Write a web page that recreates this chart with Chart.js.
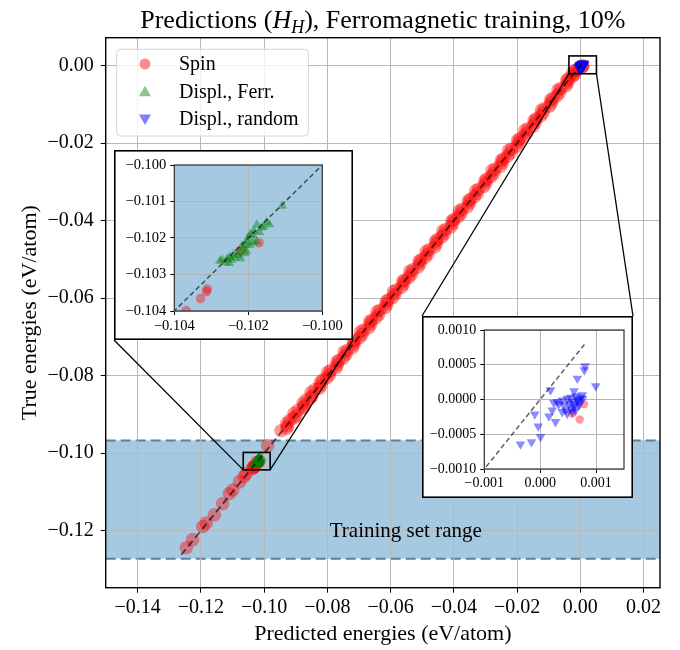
<!DOCTYPE html>
<html>
<head>
<meta charset="utf-8">
<script src="https://cdn.jsdelivr.net/npm/chart.js@4.4.1/dist/chart.umd.min.js"></script>
<style>
  body { margin: 0; background: #fff; }
  #wrap { position: relative; width: 680px; height: 650px; }
  .inset { position: absolute; background: #fff; }
</style>
</head>
<body>
<div id="wrap">
  <canvas id="main" width="680" height="650"></canvas>
  <canvas id="inset1" class="inset" width="239" height="190" style="left:114px;top:150px"></canvas>
  <canvas id="inset2" class="inset" width="211" height="182" style="left:422px;top:316px"></canvas>
</div>
<script>
// predicted (x) vs true (y) energies, eV/atom
const spinPred = [
  -0.1246, -0.1226, -0.1194, -0.1183, -0.1157, -0.1131, -0.1110, -0.1099, -0.1078, -0.1063, -0.1057,
  -0.10368, -0.10329, -0.10311, -0.10313, -0.10223, -0.10171, -0.0989,
  -0.0947, -0.0926, -0.0919, -0.0899, -0.0893, -0.0874, -0.0867, -0.0848, -0.0840, -0.0821,
  -0.0815, -0.0794, -0.0790, -0.0768, -0.0764, -0.0741, -0.0738, -0.0716, -0.0712, -0.0690,
  -0.0686, -0.0663, -0.0660, -0.0638, -0.0634, -0.0612, -0.0608, -0.0586, -0.0582, -0.0559,
  -0.0556, -0.0534, -0.0530, -0.0507, -0.0504, -0.0482, -0.0478, -0.0455, -0.0452, -0.0430,
  -0.0426, -0.0403, -0.0400, -0.0378, -0.0374, -0.0351, -0.0348, -0.0326, -0.0322, -0.0299,
  -0.0296, -0.0274, -0.0270, -0.0247, -0.0244, -0.0222, -0.0218, -0.0195, -0.0192, -0.0170,
  -0.0166, -0.0143, -0.0140, -0.0118, -0.0114, -0.0091, -0.0088, -0.0066, -0.0062, -0.0040,
  -0.0037, -0.0018, -0.0016, -0.0012,
  -0.0929, -0.0928, -0.0906, -0.0905, -0.0876, -0.0877, -0.0854, -0.0851, -0.0825, -0.0822,
  -0.0802, -0.0799, -0.0773, -0.0770, -0.0750, -0.0747, -0.0721, -0.0718, -0.0698, -0.0695,
  -0.0669, -0.0666, -0.0646, -0.0643, -0.0617, -0.0614, -0.0594, -0.0591, -0.0565, -0.0562,
  -0.0542, -0.0539, -0.0513, -0.0510, -0.0490, -0.0487, -0.0461, -0.0458, -0.0438, -0.0435,
  -0.0409, -0.0406, -0.0386, -0.0383, -0.0357, -0.0354, -0.0334, -0.0331, -0.0305, -0.0302,
  -0.0282, -0.0279, -0.0253, -0.0250, -0.0230, -0.0227, -0.0201, -0.0198, -0.0178, -0.0175,
  -0.0149, -0.0146, -0.0126, -0.0123, -0.0097, -0.0094, -0.0074, -0.0071, -0.0045, -0.0043,
  -0.0023, -0.0025,
  0.000784, 0.000707, 0.000575
];
const spinTrue = [
  -0.1244, -0.1223, -0.1189, -0.1180, -0.1159, -0.1130, -0.1104, -0.1095, -0.1074, -0.1060, -0.1053,
  -0.10399, -0.10366, -0.10340, -0.10347, -0.10236, -0.10213, -0.0980,
  -0.0942, -0.0930, -0.0915, -0.0904, -0.0889, -0.0878, -0.0863, -0.0852, -0.0836, -0.0826,
  -0.0811, -0.0798, -0.0787, -0.0772, -0.0761, -0.0745, -0.0735, -0.0720, -0.0709, -0.0694,
  -0.0683, -0.0667, -0.0657, -0.0642, -0.0631, -0.0616, -0.0605, -0.0590, -0.0579, -0.0563,
  -0.0553, -0.0538, -0.0527, -0.0511, -0.0501, -0.0486, -0.0475, -0.0459, -0.0449, -0.0434,
  -0.0423, -0.0407, -0.0397, -0.0382, -0.0371, -0.0355, -0.0345, -0.0330, -0.0319, -0.0303,
  -0.0293, -0.0278, -0.0267, -0.0251, -0.0241, -0.0226, -0.0215, -0.0199, -0.0189, -0.0174,
  -0.0163, -0.0147, -0.0137, -0.0122, -0.0111, -0.0095, -0.0085, -0.0070, -0.0059, -0.0044,
  -0.0034, -0.0022, -0.0013, -0.0011,
  -0.0936, -0.0923, -0.0909, -0.0897, -0.0883, -0.0871, -0.0858, -0.0843, -0.0832, -0.0817,
  -0.0806, -0.0791, -0.0780, -0.0765, -0.0754, -0.0739, -0.0728, -0.0713, -0.0702, -0.0687,
  -0.0676, -0.0661, -0.0650, -0.0635, -0.0624, -0.0609, -0.0598, -0.0583, -0.0572, -0.0557,
  -0.0546, -0.0531, -0.0520, -0.0505, -0.0494, -0.0479, -0.0468, -0.0453, -0.0442, -0.0427,
  -0.0416, -0.0401, -0.0390, -0.0375, -0.0364, -0.0349, -0.0338, -0.0323, -0.0312, -0.0297,
  -0.0286, -0.0271, -0.0260, -0.0245, -0.0234, -0.0219, -0.0208, -0.0193, -0.0182, -0.0167,
  -0.0156, -0.0141, -0.0130, -0.0115, -0.0104, -0.0089, -0.0078, -0.0063, -0.0052, -0.0038,
  -0.0027, -0.0019,
  -0.000067, -0.000288, -0.000202
];
const ferrPred = [
  -0.10108, -0.10143, -0.10150, -0.10158, -0.10164, -0.10170, -0.10177, -0.10185, -0.10188, -0.10195,
  -0.10200, -0.10203, -0.10186, -0.10177, -0.10206, -0.10214, -0.10217, -0.10205, -0.10223, -0.10228,
  -0.10236, -0.10239, -0.10245, -0.10250, -0.10257, -0.10263, -0.10271, -0.10277, -0.10251, -0.10221,
  -0.10209, -0.10195
];
const ferrTrue = [
  -0.10112, -0.10163, -0.10157, -0.10169, -0.10172, -0.10184, -0.10164, -0.10181, -0.10192, -0.10190,
  -0.10199, -0.10210, -0.10212, -0.10210, -0.10219, -0.10228, -0.10221, -0.10236, -0.10239, -0.10247,
  -0.10254, -0.10245, -0.10260, -0.10251, -0.10258, -0.10267, -0.10260, -0.10263, -0.10269, -0.10256,
  -0.10242, -0.10219
];
const randPred = [
  0.000802, 0.000790, 0.000665, 0.000994, 0.000186, 0.000605, 0.000754, 0.000635, 0.000545, 0.000485,
  0.000395, 0.000305, 0.000246, 0.000335, 0.000425, 0.000515, 0.000575, 0.000665, 0.000725, 0.000695,
  0.000605, 0.000545, 0.000455, 0.000395, 0.000216, 0.000156, -0.000096, 0.000275, -0.000036, 0.000006,
  -0.000156, -0.000353, 0.000485, 0.000575, 0.000635, 0.000700, 0.000760, 0.000620, 0.000680
];
const randTrue = [
  0.000481, 0.000423, 0.000303, 0.000192, 0.000135, 0.000120, 0.000063, 0.000048, 0.000029, 0.000014,
  -0.000010, -0.000034, -0.000048, -0.000067, -0.000082, -0.000058, -0.000034, -0.000010, 0.000029, -0.000082,
  -0.000106, -0.000130, -0.000154, -0.000178, -0.000154, -0.000240, -0.000212, -0.000322, -0.000385, -0.000538,
  -0.000611, -0.000644, -0.000202, -0.000178, -0.000154, -0.000050, 0.000010, -0.000070, 0.000000
];
const diagLine = [-0.1262, 0.0008];
const trainRange = [-0.1272, -0.0967];
const trainLabelAt = [-0.0552, -0.1203];
const zoomBox1 = [-0.1066, -0.0981, -0.1043, -0.0998];  // x0, x1, y0, y1
const zoomBox2 = [-0.0036, 0.0051, -0.0021, 0.0025];

const mainXRange = [-0.1501, 0.0252];
const mainYRange = [-0.1347, 0.0072];
const mainXTicks = [-0.14, -0.12, -0.10, -0.08, -0.06, -0.04, -0.02, 0.00, 0.02];
const mainYTicks = [-0.12, -0.10, -0.08, -0.06, -0.04, -0.02, 0.00];
const in1Range = [-0.104, -0.100];
const in1XTicks = [-0.104, -0.102, -0.100];
const in1YTicks = [-0.104, -0.103, -0.102, -0.101, -0.100];
const in2XRange = [-0.001, 0.0015];
const in2YRange = [-0.001, 0.001];
const in2XTicks = [-0.001, 0.000, 0.001];
const in2YTicks = [-0.0010, -0.0005, 0.0000, 0.0005, 0.0010];

const seriesNames = ['Spin', 'Displ., Ferr.', 'Displ., random'];
const titleText = ['Predictions (', 'H', 'H', '), Ferromagnetic training, 10%'];

const serif = "'Liberation Serif', 'DejaVu Serif', serif";
const RED = 'rgba(255,0,0,0.4)', GREEN = 'rgba(0,128,0,0.42)', BLUE = 'rgba(0,0,255,0.45)';

function pts(xs, ys) { return xs.map((x, i) => ({x: x, y: ys[i]})); }
function fmt(d) { return v => (v < -1e-12 ? '\u2212' : '') + Math.abs(v).toFixed(d); }

function makeSets(r, dash, lw) {
  const base = {pointBorderWidth: 0, pointBorderColor: 'rgba(0,0,0,0)', clip: 0, showLine: false};
  return [
    {label: 'diag', data: [{x: diagLine[0], y: diagLine[0]}, {x: diagLine[1], y: diagLine[1]}],
      showLine: true, borderColor: 'rgba(0,0,0,0.62)', borderWidth: lw, borderDash: dash, pointRadius: 0, order: 0, clip: 0},
    Object.assign({}, base, {label: seriesNames[2], data: pts(randPred, randTrue), pointStyle: 'triangle', pointRotation: 180,
      pointRadius: r.rand, pointBackgroundColor: BLUE, order: 1}),
    Object.assign({}, base, {label: seriesNames[1], data: pts(ferrPred, ferrTrue), pointStyle: 'triangle',
      pointRadius: r.ferr, pointBackgroundColor: GREEN, order: 2}),
    Object.assign({}, base, {label: seriesNames[0], data: pts(spinPred, spinTrue), pointStyle: 'circle',
      pointRadius: r.spin, pointBackgroundColor: RED, order: 3})
  ];
}

function axis(ticks, range, d, size, fontPx, pad, tl, gridCol) {
  return {
    type: 'linear', min: range[0], max: range[1],
    afterBuildTicks: s => { s.ticks = ticks.map(v => ({value: v})); },
    afterFit: s => { if (s.isHorizontal()) s.height = size; else s.width = size; },
    ticks: {callback: fmt(d), font: {family: serif, size: fontPx}, color: '#000', padding: pad,
      maxRotation: 0, autoSkip: false},
    grid: {color: gridCol, lineWidth: 1, tickColor: '#000', tickLength: tl, drawTicks: true},
    border: {display: false}
  };
}

// training-range band under the grid, frame on top
const spanPlugin = {
  id: 'span',
  beforeDraw(chart, args, opts) {
    const {ctx, chartArea: a} = chart;
    const y = chart.scales.y;
    ctx.save();
    ctx.fillStyle = '#fff';
    ctx.fillRect(0, 0, chart.width, chart.height);
    ctx.beginPath(); ctx.rect(a.left, a.top, a.right - a.left, a.bottom - a.top); ctx.clip();
    const y0 = y.getPixelForValue(trainRange[1]), y1 = y.getPixelForValue(trainRange[0]);
    ctx.fillStyle = 'rgba(31,119,180,0.4)';
    ctx.fillRect(a.left, y0, a.right - a.left, y1 - y0);
    if (opts.edges) {
      ctx.strokeStyle = '#5d7f9b'; ctx.lineWidth = 2; ctx.setLineDash([10, 5]);
      [y0, y1].forEach(p => { ctx.beginPath(); ctx.moveTo(a.left, p); ctx.lineTo(a.right, p); ctx.stroke(); });
    }
    ctx.restore();
  },
  afterDraw(chart, args, opts) {
    const {ctx, chartArea: a} = chart;
    ctx.save();
    ctx.strokeStyle = opts.frameColor || '#000';
    ctx.lineWidth = opts.frameWidth || 1.3;
    ctx.strokeRect(a.left, a.top, a.right - a.left, a.bottom - a.top);
    if (opts.outer) {
      ctx.strokeStyle = '#000'; ctx.lineWidth = 1.6;
      ctx.strokeRect(0.8, 0.8, chart.width - 1.6, chart.height - 1.6);
    }
    ctx.restore();
  }
};

function drawMarker(ctx, style, x, y, r, col) {
  ctx.fillStyle = col;
  ctx.beginPath();
  if (style === 'circle') {
    ctx.arc(x, y, r, 0, Math.PI * 2);
  } else {
    const s = style === 'up' ? -1 : 1;
    ctx.moveTo(x, y + s * r);
    ctx.lineTo(x + r * 0.866, y - s * r * 0.5);
    ctx.lineTo(x - r * 0.866, y - s * r * 0.5);
    ctx.closePath();
  }
  ctx.fill();
}

const mainDecor = {
  id: 'mainDecor',
  afterDraw(chart) {
    const {ctx, chartArea: a} = chart;
    const xs = chart.scales.x, ys = chart.scales.y;
    ctx.save();

    // zoom boxes and connectors
    ctx.strokeStyle = '#000';
    const box = b => ({l: xs.getPixelForValue(b[0]), r: xs.getPixelForValue(b[1]),
      b: ys.getPixelForValue(b[2]), t: ys.getPixelForValue(b[3])});
    const b1 = box(zoomBox1), b2 = box(zoomBox2);
    const e1 = document.getElementById('inset1'), e2 = document.getElementById('inset2');
    ctx.lineWidth = 1.3;
    const line = (x0, y0, x1, y1) => { ctx.beginPath(); ctx.moveTo(x0, y0); ctx.lineTo(x1, y1); ctx.stroke(); };
    line(e1.offsetLeft, e1.offsetTop + e1.offsetHeight, b1.l, b1.b);
    line(e1.offsetLeft + e1.offsetWidth, e1.offsetTop + e1.offsetHeight, b1.r, b1.b);
    line(e2.offsetLeft, e2.offsetTop, b2.l, b2.b);
    line(e2.offsetLeft + e2.offsetWidth, e2.offsetTop, b2.r, b2.b);
    ctx.lineWidth = 1.6;
    ctx.strokeRect(b1.l, b1.t, b1.r - b1.l, b1.b - b1.t);
    ctx.strokeRect(b2.l, b2.t, b2.r - b2.l, b2.b - b2.t);

    // band label
    ctx.fillStyle = '#000';
    ctx.font = `21px ${serif}`;
    ctx.textAlign = 'center'; ctx.textBaseline = 'middle';
    ctx.fillText('Training set range', xs.getPixelForValue(trainLabelAt[0]), ys.getPixelForValue(trainLabelAt[1]));

    // axis titles
    ctx.font = `22px ${serif}`;
    ctx.fillText('Predicted energies (eV/atom)', (a.left + a.right) / 2, 634);
    ctx.save();
    ctx.translate(30, (a.top + a.bottom) / 2);
    ctx.rotate(-Math.PI / 2);
    ctx.fillText('True energies (eV/atom)', 0, 0);
    ctx.restore();

    // title with H_H
    const big = `26px ${serif}`, it = `italic 26px ${serif}`, sub = `italic 18px ${serif}`;
    const parts = [[titleText[0], big, 0], [titleText[1], it, 0], [titleText[2], sub, 5], [titleText[3], big, 0]];
    ctx.textAlign = 'left'; ctx.textBaseline = 'alphabetic';
    let total = 0;
    parts.forEach(p => { ctx.font = p[1]; p.push(ctx.measureText(p[0]).width); total += p[3]; });
    let tx = (a.left + a.right) / 2 - total / 2;
    parts.forEach(p => { ctx.font = p[1]; ctx.fillText(p[0], tx, 28 + p[2]); tx += p[3]; });

    // legend
    ctx.font = `20px ${serif}`;
    const tw = Math.max(...seriesNames.map(s => ctx.measureText(s).width));
    const lx = 116.7, ly = 49.3, lw = 179 + tw + 10 - lx, lh = 86.7;
    ctx.beginPath();
    ctx.roundRect(lx, ly, lw, lh, 4);
    ctx.fillStyle = 'rgba(255,255,255,0.8)'; ctx.fill();
    ctx.strokeStyle = '#d6d6d6'; ctx.lineWidth = 1; ctx.stroke();
    const rows = [64, 91.7, 119];
    drawMarker(ctx, 'circle', 145, rows[0], 5.5, 'rgba(255,0,0,0.45)');
    drawMarker(ctx, 'up', 145, rows[1] + 1, 7, 'rgba(0,128,0,0.45)');
    drawMarker(ctx, 'down', 145, rows[2] - 1, 7, 'rgba(0,0,255,0.5)');
    ctx.fillStyle = '#000'; ctx.textBaseline = 'middle';
    seriesNames.forEach((s, i) => ctx.fillText(s, 179, rows[i] + 1));

    ctx.restore();
  }
};

const common = {responsive: false, animation: false, devicePixelRatio: 1, events: []};

new Chart(document.getElementById('main'), {
  type: 'scatter',
  data: {datasets: makeSets({spin: 6.8, ferr: 7, rand: 7}, [7, 4], 1.8)},
  options: Object.assign({}, common, {
    layout: {padding: {left: 0, top: 37.7, right: 20, bottom: 0}},
    scales: {
      x: axis(mainXTicks, mainXRange, 2, 62.3, 20, 3, 5, '#b8b8b8'),
      y: axis(mainYTicks, mainYRange, 2, 105.7, 20, 7, 5, '#b8b8b8')
    },
    plugins: {legend: {display: false}, tooltip: {enabled: false}, span: {edges: true, frameWidth: 1.4}}
  }),
  plugins: [spanPlugin, mainDecor]
});

new Chart(document.getElementById('inset1'), {
  type: 'scatter',
  data: {datasets: makeSets({spin: 4.8, ferr: 5.6, rand: 5.6}, [5, 3], 1.5)},
  options: Object.assign({}, common, {
    layout: {padding: {left: 0, top: 15, right: 30.7, bottom: 0}},
    scales: {
      x: axis(in1XTicks, in1Range, 3, 29, 14.5, 2, 4, '#b4b4b4'),
      y: axis(in1YTicks, in1Range, 3, 60.3, 14.5, 4, 4, '#b4b4b4')
    },
    plugins: {legend: {display: false}, tooltip: {enabled: false},
      span: {edges: false, frameColor: '#333', frameWidth: 1.2, outer: true}}
  }),
  plugins: [spanPlugin]
});

new Chart(document.getElementById('inset2'), {
  type: 'scatter',
  data: {datasets: makeSets({spin: 4.2, ferr: 5.6, rand: 5.6}, [5, 3], 1.5)},
  options: Object.assign({}, common, {
    layout: {padding: {left: 0, top: 14, right: 9, bottom: 0}},
    scales: {
      x: axis(in2XTicks, in2XRange, 3, 29, 14, 2, 4, '#b4b4b4'),
      y: axis(in2YTicks, in2YRange, 4, 62.3, 14, 4, 4, '#b4b4b4')
    },
    plugins: {legend: {display: false}, tooltip: {enabled: false},
      span: {edges: false, frameColor: '#333', frameWidth: 1.2, outer: true}}
  }),
  plugins: [spanPlugin]
});
</script>
</body>
</html>
